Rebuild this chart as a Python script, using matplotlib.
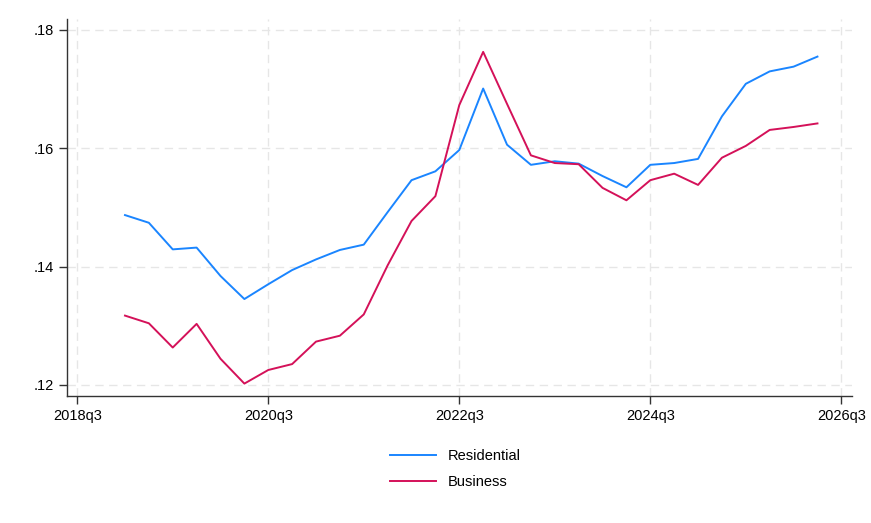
import matplotlib.pyplot as plt
import numpy as np

plt.rcParams['font.family'] = ['Liberation Sans', 'DejaVu Sans']

# quarters 2019q1 .. 2026q2
quarters = [f"{y}q{q}" for y in range(2019, 2027) for q in range(1, 5)][:30]

residential = [.1487, .1474, .1429, .1432, .1384, .1345, .1370, .1394, .1412, .1428,
               .1437, .1492, .1546, .1561, .1597, .1701, .1606, .1572, .1578, .1574,
               .1553, .1534, .1572, .1575, .1582, .1654, .1709, .1730, .1738, .1755]
business = [.1317, .1304, .1263, .1303, .1244, .1202, .1225, .1235, .1273, .1283,
            .1319, .1402, .1477, .1519, .1673, .1763, .1675, .1588, .1575, .1573,
            .1533, .1512, .1546, .1557, .1538, .1584, .1604, .1631, .1636, .1642]

xtick_labels = ["2018q3", "2020q3", "2022q3", "2024q3", "2026q3"]
ytick_vals = [.12, .14, .16, .18]


def qindex(s):
    # quarters since 2018q3
    y, q = s.split("q")
    return (int(y) - 2018) * 4 + int(q) - 3


x = np.array([qindex(s) for s in quarters])
xt = [qindex(s) for s in xtick_labels]

fig = plt.figure(figsize=(8.71, 5.23), dpi=100)
ax = fig.add_axes([0.0766, 0.2428, 0.9014, 0.7202])

ax.plot(x, residential, color="#1a85ff", lw=1.4, label="Residential")
ax.plot(x, business, color="#d41159", lw=1.4, label="Business")

ax.set_xlim(-0.44, 32.44)
ax.set_ylim(.1181, .1818)
ax.set_xticks(xt)
ax.set_xticklabels(xtick_labels)
ax.set_yticks(ytick_vals)
ax.set_yticklabels([f"{v:.2f}".lstrip("0") for v in ytick_vals])

ax.grid(True, color="#e6e6e6", ls=(0, (6, 4)), lw=1.0)
ax.set_axisbelow(True)
for s in ["top", "right"]:
    ax.spines[s].set_visible(False)
for s in ["left", "bottom"]:
    ax.spines[s].set_color("#333333")
    ax.spines[s].set_linewidth(1.0)
ax.tick_params(direction="out", length=6, width=1, colors="#333333",
               labelcolor="black", labelsize=10.5)

ax.legend(loc="upper center", bbox_to_anchor=(0.5 - 0.005, -0.105), ncol=1,
          frameon=False, fontsize=10.5, handlelength=3.2, labelspacing=0.85)

fig.savefig("out.png", dpi=100)
